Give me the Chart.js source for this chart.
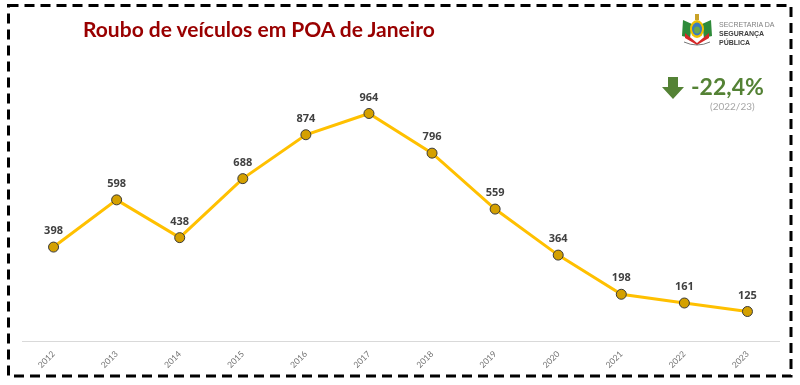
<!DOCTYPE html>
<html>
<head>
<meta charset="utf-8">
<script src="https://cdn.jsdelivr.net/npm/chart.js@4/dist/chart.umd.min.js"></script>
<style>
  html, body { margin: 0; padding: 0; background: #fff; }
  #wrap { position: relative; width: 800px; height: 385px; overflow: hidden; }
  #c { position: absolute; left: 0; top: 0; }
  .txt { position: absolute; white-space: nowrap; }
  #title { left: 83px; top: 16px; font-family: Lato, "Open Sans", sans-serif; font-weight: bold; font-size: 21px; color: #990000; }
  #pct { left: 691px; top: 72px; font-family: Lato, "Open Sans", sans-serif; font-weight: bold; font-size: 23px; color: #548235; }
  #period { left: 710px; top: 100px; font-family: Lato, "Open Sans", sans-serif; font-size: 10px; color: #a6a6a6; }
  #org1 { left: 719px; top: 21px; font-family: "Liberation Sans", Arial, sans-serif; font-size: 7px; color: #808080; }
  #org2 { left: 719px; top: 30px; font-family: "Liberation Sans", Arial, sans-serif; font-weight: bold; font-size: 7px; color: #404040; }
  #org3 { left: 719px; top: 38.5px; font-family: "Liberation Sans", Arial, sans-serif; font-weight: bold; font-size: 7px; color: #404040; }
</style>
</head>
<body>
<div id="wrap">
  <canvas id="c" width="800" height="385"></canvas>
  <div class="txt" id="title">Roubo de veículos em POA de Janeiro</div>
  <div class="txt" id="pct">-22,4%</div>
  <div class="txt" id="period">(2022/23)</div>
  <div class="txt" id="org1">SECRETARIA DA</div>
  <div class="txt" id="org2">SEGURANÇA</div>
  <div class="txt" id="org3">PÚBLICA</div>
</div>
<script>
const years = ["2012","2013","2014","2015","2016","2017","2018","2019","2020","2021","2022","2023"];
const roubos = [398, 598, 438, 688, 874, 964, 796, 559, 364, 198, 161, 125];

const decorPlugin = {
  id: 'decor',
  beforeDraw(chart) {
    const ctx = chart.ctx;
    ctx.save();
    ctx.fillStyle = '#fff';
    ctx.fillRect(0, 0, chart.width, chart.height);
    ctx.restore();
  },
  afterDraw(chart) {
    const ctx = chart.ctx;
    ctx.save();
    // dashed frame
    ctx.strokeStyle = '#000';
    ctx.lineWidth = 3;
    ctx.setLineDash([10, 6]);
    ctx.strokeRect(8.5, 5.5, 782.5, 370.5);
    ctx.setLineDash([]);
    // down arrow
    ctx.fillStyle = '#548235';
    ctx.beginPath();
    ctx.moveTo(668, 77); ctx.lineTo(678, 77); ctx.lineTo(678, 87);
    ctx.lineTo(684, 87); ctx.lineTo(673, 99); ctx.lineTo(662, 87);
    ctx.lineTo(668, 87); ctx.closePath(); ctx.fill();
    // simplified coat of arms
    const cx = 697, cy = 29;
    ctx.fillStyle = '#2e8b3a';
    ctx.beginPath(); ctx.moveTo(683, 20); ctx.lineTo(692, 24); ctx.lineTo(690, 38); ctx.lineTo(682, 36); ctx.closePath(); ctx.fill();
    ctx.beginPath(); ctx.moveTo(711, 20); ctx.lineTo(702, 24); ctx.lineTo(704, 38); ctx.lineTo(712, 36); ctx.closePath(); ctx.fill();
    ctx.fillStyle = '#d62828';
    ctx.beginPath(); ctx.moveTo(685, 33); ctx.lineTo(697, 43); ctx.lineTo(709, 33); ctx.lineTo(709, 38); ctx.lineTo(697, 45); ctx.lineTo(685, 38); ctx.closePath(); ctx.fill();
    ctx.fillStyle = '#f2c200';
    ctx.beginPath(); ctx.ellipse(cx, cy, 7, 9, 0, 0, Math.PI * 2); ctx.fill();
    ctx.fillStyle = '#3a7bbf';
    ctx.beginPath(); ctx.ellipse(cx, cy, 5, 6.5, 0, 0, Math.PI * 2); ctx.fill();
    ctx.fillStyle = '#6aa84f';
    ctx.beginPath(); ctx.ellipse(cx, cy + 1, 3, 3.5, 0, 0, Math.PI * 2); ctx.fill();
    ctx.fillStyle = '#c9a227';
    ctx.fillRect(695, 14, 4, 6);
    ctx.strokeStyle = '#555'; ctx.lineWidth = 0.8;
    ctx.beginPath(); ctx.moveTo(684, 42); ctx.quadraticCurveTo(697, 48, 710, 42); ctx.stroke();
    ctx.restore();
  }
};

const labelPlugin = {
  id: 'valueLabels',
  afterDatasetsDraw(chart) {
    const ctx = chart.ctx;
    const meta = chart.getDatasetMeta(0);
    ctx.save();
    ctx.font = 'bold 11px "Open Sans", Lato, sans-serif';
    ctx.fillStyle = '#404040';
    ctx.textAlign = 'center';
    ctx.textBaseline = 'middle';
    meta.data.forEach((pt, i) => {
      ctx.fillText(String(chart.data.datasets[0].data[i]), pt.x, pt.y - 16);
    });
    ctx.restore();
  }
};

new Chart(document.getElementById('c'), {
  type: 'line',
  data: {
    labels: years,
    datasets: [{
      data: roubos,
      borderColor: '#FFC000',
      borderWidth: 3,
      tension: 0,
      pointRadius: 5,
      pointBackgroundColor: '#D4A000',
      pointBorderColor: '#3a3a3a',
      pointBorderWidth: 1,
      fill: false
    }]
  },
  options: {
    responsive: false,
    animation: false,
    devicePixelRatio: 1,
    layout: { padding: { left: 22, right: 21, top: 105, bottom: 0 } },
    plugins: { legend: { display: false }, tooltip: { enabled: false }, title: { display: false } },
    scales: {
      x: {
        offset: true,
        grid: { display: false, drawTicks: false },
        border: { display: true, color: '#d9d9d9', width: 1 },
        ticks: {
          minRotation: 45, maxRotation: 45, padding: 8,
          color: '#707070',
          font: { family: 'Lato, "Open Sans", sans-serif', size: 8.5 }
        },
        afterFit(scale) { scale.height = 44; }
      },
      y: {
        display: false,
        min: 0, max: 1000
      }
    }
  },
  plugins: [decorPlugin, labelPlugin]
});
</script>
</body>
</html>
